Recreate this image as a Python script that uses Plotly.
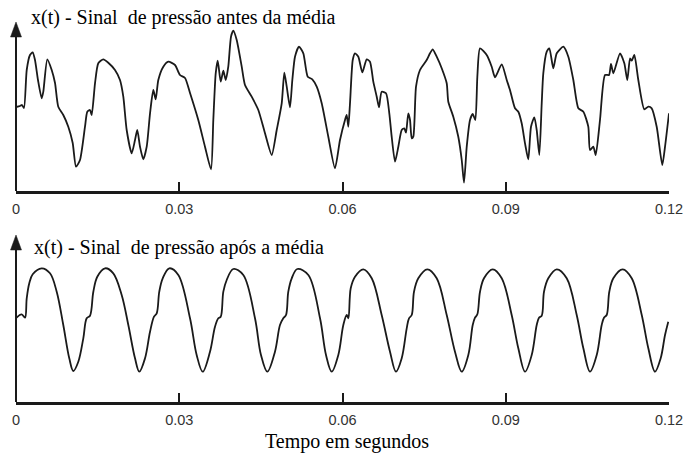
import plotly.graph_objects as go

# ---------------- data ----------------
# time in milliseconds, amplitude in arbitrary units (0 = axis)
t_before_ms = [0.0, 0.74, 1.10, 1.47, 1.97, 2.57, 3.07, 3.49, 4.04, 4.72, 5.02, 5.75, 6.56, 7.17, 7.77,
               8.69, 9.61, 10.42, 11.03, 11.76, 12.68, 13.10, 13.60, 13.91, 14.52, 15.12, 16.04, 16.96,
               18.19, 19.11, 19.72, 20.34, 21.26, 21.87, 22.29, 22.79, 23.39, 24.02, 24.63, 25.23, 25.67,
               26.15, 27.07, 27.99, 29.22, 30.14, 31.06, 31.98, 33.50, 34.73, 35.84, 36.26, 36.70, 37.07,
               37.62, 38.10, 38.54, 39.01, 39.51, 39.93, 40.56, 41.48, 42.08, 43.31, 44.53, 45.76, 46.99,
               47.91, 48.83, 49.31, 49.75, 50.35, 50.78, 51.27, 52.01, 52.80, 53.61, 54.45, 55.26, 56.18,
               57.39, 58.62, 59.54, 60.46, 60.77, 61.07, 61.38, 61.88, 62.30, 62.91, 63.64, 64.45, 65.05,
               65.66, 66.29, 66.71, 67.20, 68.00, 68.60, 69.04, 69.65, 70.26, 70.88, 71.36, 71.67, 72.09,
               72.41, 72.72, 73.01, 73.51, 74.24, 75.47, 76.08, 76.58, 77.31, 78.23, 79.15, 79.44, 80.36,
               81.28, 81.91, 82.33, 82.83, 83.43, 83.93, 84.41, 84.78, 85.27, 86.50, 87.42, 88.03, 89.26,
               90.18, 90.78, 91.70, 92.31, 92.93, 93.54, 94.14, 94.64, 95.25, 95.69, 96.17, 96.61, 96.90,
               97.53, 98.01, 98.74, 99.37, 100.58, 101.50, 102.42, 103.34, 104.26, 105.17, 105.48, 106.09,
               106.53, 107.32, 108.24, 108.98, 109.34, 109.77, 111.00, 111.79, 112.34, 112.84, 113.15,
               113.63, 114.36, 115.46, 116.20, 116.82, 117.74, 118.77, 119.27, 120.0]
x_before = [84, 85, 86, 83, 121, 136, 138.7, 131, 111, 92.7, 99.3, 131.7, 121, 108, 84.3,
            76, 64.3, 48, 24.3, 31, 64.3, 79.3, 81, 76, 107.7, 127.7, 131.7, 128.3,
            121, 111, 94.3, 61, 37.7, 51, 61, 44.3, 31.7, 44.3, 77.7, 101, 91.7,
            111, 124.3, 129.3, 126, 116, 113, 98, 71, 44.3, 21.7, 71, 117.7, 130.3,
            109.3, 120.3, 111, 124.3, 154.3, 160.3, 151, 124.3, 106, 94.3, 81, 57.7, 36,
            61, 87.7, 118.3, 104.3, 83.7, 111, 134.3, 144.3, 137.7, 114.3, 111.7, 104.3, 87.7,
            54.3, 22.7, 51, 71, 76, 64.3, 87.7, 131, 137.7, 134.3, 118.7, 131.7, 129.3,
            109.3, 94.3, 83.7, 99.3, 97.7, 77.7, 54.3, 29.3, 44.3, 61, 62.7, 58.3, 77.7,
            71, 52.7, 54.3, 104.3, 121, 131, 137.7, 141.7, 134.3, 122.7, 107.7, 89.3, 74.3,
            54.3, 31, 8.3, 44.3, 71, 77, 71, 114.3, 142.7, 136, 124.3, 113.7, 126.7,
            111, 101, 82.7, 79.3, 67.7, 47.7, 31.7, 64.3, 73.7, 61, 36, 87.7, 117.7,
            139.3, 142.7, 122.7, 137.7, 144.3, 134.3, 111, 82.7, 79.3, 64.3, 41, 44.3,
            36, 71, 116, 116, 127, 117.7, 137.7, 127.7, 111, 132.7, 130.3,
            136, 111, 81.7, 84.3, 82.7, 64.3, 26, 44.3, 77.7]

t_after_ms = [0.0, 1.05, 1.65, 1.97, 2.44, 3.07, 4.72, 6.25, 7.48, 8.69, 9.79, 10.53, 11.45, 12.37,
              12.99, 13.60, 14.21, 14.94, 16.36, 17.88, 19.42, 20.64, 21.87, 22.66, 23.71, 24.63, 25.36,
              25.86, 26.33, 26.96, 28.17, 29.83, 31.98, 33.20, 34.31, 35.65, 36.57, 37.18, 37.62, 38.10,
              38.72, 39.93, 41.77, 43.92, 45.02, 46.18, 47.59, 48.51, 49.12, 49.62, 50.04, 50.67, 51.70,
              53.72, 55.87, 56.97, 58.02, 59.23, 60.15, 60.77, 61.07, 61.51, 62.30, 63.82, 65.37, 67.20,
              68.73, 69.83, 70.88, 71.80, 72.22, 72.72, 73.14, 73.93, 75.58, 77.31, 79.15, 80.67, 81.91,
              83.12, 83.93, 84.35, 84.78, 85.27, 86.00, 87.60, 89.26, 91.09, 92.31, 93.54, 94.77, 95.69,
              96.11, 96.61, 97.03, 97.82, 99.37, 101.20, 103.04, 104.26, 105.48, 106.72, 107.63, 108.05,
              108.55, 109.03, 109.77, 111.49, 113.15, 114.99, 116.20, 117.43, 118.47, 119.27, 119.87]
x_after = [84, 87.7, 84.3, 103.7, 118.7, 127.7, 133.7, 128.7, 110.3, 77, 43.7, 31, 40.3, 63.7,
           83.7, 86.3, 110.3, 125.3, 133.7, 128.7, 107, 77, 43.7, 30.3, 43.7, 70.3, 85.3,
           88.7, 110.3, 123.7, 133.7, 127, 83.7, 47, 30.3, 50.3, 75.3, 83.7, 85.3, 110.3,
           122, 133, 127, 83.7, 47, 30.3, 50.3, 77, 83.7, 87, 110.3, 123.7, 133,
           127, 83.7, 47, 30.3, 47, 77, 87, 83.7, 113.7, 125.3, 132.7, 123.7, 87,
           50.3, 30.3, 43.7, 73.7, 83.7, 87, 110.3, 123.7, 132.7, 123.7, 87, 50.3, 30.3,
           47, 77, 84.3, 87.7, 110.3, 123.7, 132.7, 123.7, 87, 53.7, 30.3, 47, 77,
           84.3, 86.3, 110.3, 123.7, 132.7, 123.7, 87, 53.7, 30.3, 47, 77, 84.3,
           87, 110.3, 123.7, 132.7, 123.7, 87, 53.7, 30.3, 43.7, 67, 80.3]

tick_vals = [0, 0.03, 0.06, 0.09, 0.12]
tick_text = ["0", "0.03", "0.06", "0.09", "0.12"]
title_top = "x(t) - Sinal&nbsp;&nbsp;de pressão antes da média"
title_bottom = "x(t) - Sinal&nbsp;&nbsp;de pressão após a média"
x_label = "Tempo em segundos"

# ---------------- figure ----------------
W, H = 684, 457
fig = go.Figure()
fig.add_trace(go.Scatter(x=[v / 1000 for v in t_before_ms], y=x_before, mode="lines",
                         line=dict(color="#1a1a1a", width=1.8, shape="spline", smoothing=0.6),
                         xaxis="x", yaxis="y", showlegend=False, hoverinfo="skip"))
fig.add_trace(go.Scatter(x=[v / 1000 for v in t_after_ms], y=x_after, mode="lines",
                         line=dict(color="#1a1a1a", width=1.8, shape="spline", smoothing=1.0),
                         xaxis="x2", yaxis="y2", showlegend=False, hoverinfo="skip"))

x0p, x1p = 16 / W, 669 / W
top_dom = [1 - 191 / H, 1 - 22 / H]
bot_dom = [1 - 402 / H, 1 - 235 / H]

xa = dict(range=[0, 0.12], domain=[x0p, x1p], showgrid=False, zeroline=False, automargin=False,
          showline=True, linecolor="#1a1a1a", linewidth=2.5,
          ticks="inside", ticklen=9, tickwidth=1.5, tickcolor="#1a1a1a",
          tickvals=tick_vals, ticktext=tick_text, ticklabelstandoff=3,
          tickfont=dict(family="Liberation Sans, Arial", size=14.5, color="#333333"))
ya = dict(showgrid=False, zeroline=False, showline=False, showticklabels=False, ticks="",
          automargin=False)

fig.update_layout(
    template="none",
    width=W, height=H, margin=dict(l=0, r=0, t=0, b=0, autoexpand=False),
    paper_bgcolor="white", plot_bgcolor="white",
    xaxis=dict(xa, anchor="y"),
    yaxis=dict(ya, range=[0, 169], domain=top_dom, anchor="x"),
    xaxis2=dict(xa, anchor="y2"),
    yaxis2=dict(ya, range=[0, 167], domain=bot_dom, anchor="x2"),
)

# vertical axes with arrowheads
shapes = []
for dom in (top_dom, bot_dom):
    shapes.append(dict(type="line", xref="paper", yref="paper", x0=x0p, x1=x0p,
                       y0=dom[0], y1=dom[1] - 10 / H, line=dict(color="#1a1a1a", width=2)))
    tip = dom[1]
    shapes.append(dict(type="path", xref="paper", yref="paper",
                       path=f"M {x0p} {tip} L {x0p - 5.5 / W} {tip - 15 / H} L {x0p + 5.5 / W} {tip - 15 / H} Z",
                       fillcolor="#1a1a1a", line=dict(color="#1a1a1a", width=0.5)))
fig.update_layout(shapes=shapes)

serif = dict(family="Times New Roman, Liberation Serif, DejaVu Serif, serif", size=20, color="black")
fig.add_annotation(text=title_top, xref="paper", yref="paper", x=29 / W, y=1 - 18 / H,
                   xanchor="left", yanchor="middle", showarrow=False, font=serif)
fig.add_annotation(text=title_bottom, xref="paper", yref="paper", x=32 / W, y=1 - 247 / H,
                   xanchor="left", yanchor="middle", showarrow=False, font=serif)
fig.add_annotation(text=x_label, xref="paper", yref="paper", x=347 / W, y=1 - 441 / H,
                   xanchor="center", yanchor="middle", showarrow=False, font=serif)

fig.write_html("out.html")
